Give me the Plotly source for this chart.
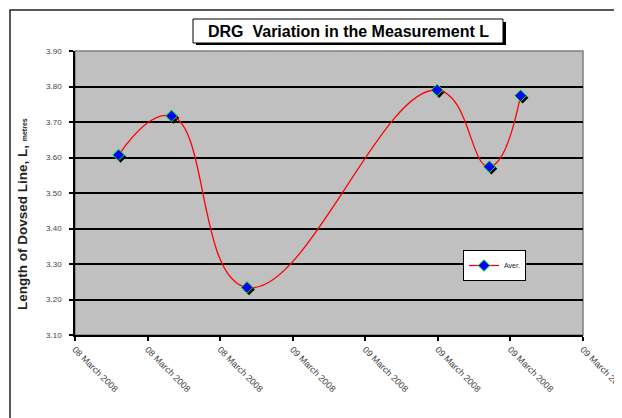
import plotly.graph_objects as go

# ---- data ----
x_pos = [0.60, 1.33, 2.37, 4.99, 5.71, 6.14]
y_vals = [3.607, 3.717, 3.234, 3.790, 3.574, 3.774]
tick_pos = [0, 1, 2, 3, 4, 5, 6, 7]
tick_labels = ["08 March 2008", "08 March 2008", "08 March 2008", "09 March 2008",
               "09 March 2008", "09 March 2008", "09 March 2008", "09 March 2008"]
series_name = "Aver."

# page body adds 8px around the figure
W, H = 614, 410
L, R, T, B = 67, 39, 43, 83
pw, ph = W - L - R, H - T - B
XR = [0, 7]
YR = [3.10, 3.90]
# shadow offset: 2 px right / down, converted via axis scale
sx = 2.0 * (XR[1] - XR[0]) / pw
sy = 2.0 * (YR[1] - YR[0]) / ph

def px(v):  # screen x -> paper
    return (v - 75) / pw

def py(v):  # screen y -> paper
    return (335 - v) / ph

fig = go.Figure()

fig.add_trace(go.Scatter(
    x=[v + sx for v in x_pos], y=[v - sy for v in y_vals], mode="markers",
    marker=dict(symbol="diamond", size=9, color="black"),
    showlegend=False, hoverinfo="skip"))

fig.add_trace(go.Scatter(
    x=x_pos, y=y_vals, mode="lines+markers", name=series_name,
    line=dict(color="#FF0000", width=1.3, shape="spline", smoothing=1.3),
    marker=dict(symbol="diamond", size=9, color="#0000FF",
                line=dict(color="#00FF00", width=1))))

fnt = "Arial, 'Liberation Sans', sans-serif"

fig.update_layout(
    width=W, height=H,
    margin=dict(l=L, r=R, t=T, b=B, autoexpand=False),
    paper_bgcolor="white", plot_bgcolor="#C0C0C0",
    font=dict(family=fnt, color="#222"),
    xaxis=dict(range=XR, tickvals=tick_pos, ticktext=tick_labels, tickangle=45,
               tickfont=dict(size=9, color="#444"), showgrid=False, zeroline=False,
               showline=True, linecolor="black", linewidth=1.5, automargin=False,
               ticklabeloverflow="allow",
               ticks="outside", ticklen=4, tickcolor="black", tickwidth=1.5),
    yaxis=dict(range=YR, dtick=0.1, tick0=3.1, tickformat=".2f",
               tickfont=dict(size=8, color="#444"), showgrid=True,
               gridcolor="black", gridwidth=2, zeroline=False,
               showline=True, linecolor="black", linewidth=1.5, automargin=False,
               ticks="outside", ticklen=4, tickcolor="black", tickwidth=1.5,
               ticklabelstandoff=6),
    legend=dict(x=px(463), y=py(250), xanchor="left", yanchor="top",
                bgcolor="white", bordercolor="black", borderwidth=1,
                font=dict(size=7, color="#222"), itemwidth=30,
                tracegroupgap=0),
    showlegend=True,
)

shapes = []
shapes.append(dict(type="rect", xref="paper", yref="paper",
                   x0=px(10), x1=px(720), y0=py(480), y1=py(10),
                   line=dict(color="#222", width=1.5), fillcolor="rgba(0,0,0,0)", layer="below"))
shapes.append(dict(type="rect", xref="paper", yref="paper", x0=0, x1=1, y0=0, y1=1,
                   line=dict(color="#808080", width=1.5), layer="below"))
shapes.append(dict(type="rect", xref="paper", yref="paper",
                   x0=px(196), x1=px(506), y0=py(45), y1=py(22),
                   line=dict(width=0), fillcolor="black"))
shapes.append(dict(type="rect", xref="paper", yref="paper",
                   x0=px(193), x1=px(503), y0=py(43), y1=py(19),
                   line=dict(color="black", width=1), fillcolor="white"))
fig.update_layout(shapes=shapes)

fig.add_annotation(text="<b>DRG  Variation in the Measurement L</b>", xref="paper", yref="paper",
                   x=px(348), y=py(31), xanchor="center", yanchor="middle",
                   showarrow=False,
                   font=dict(family="'Liberation Sans Narrow', 'Arial Narrow', Arial, sans-serif",
                             size=16, color="black"))
fig.add_annotation(text="<b>Length of Dovsed Line, L, </b><span style='font-size:7px'><b>metres</b></span>",
                   xref="paper", yref="paper",
                   x=px(22), y=py(214), xanchor="center", yanchor="middle",
                   textangle=-90, showarrow=False,
                   font=dict(family=fnt, size=13.5, color="#222"))

fig.write_html("out.html")
